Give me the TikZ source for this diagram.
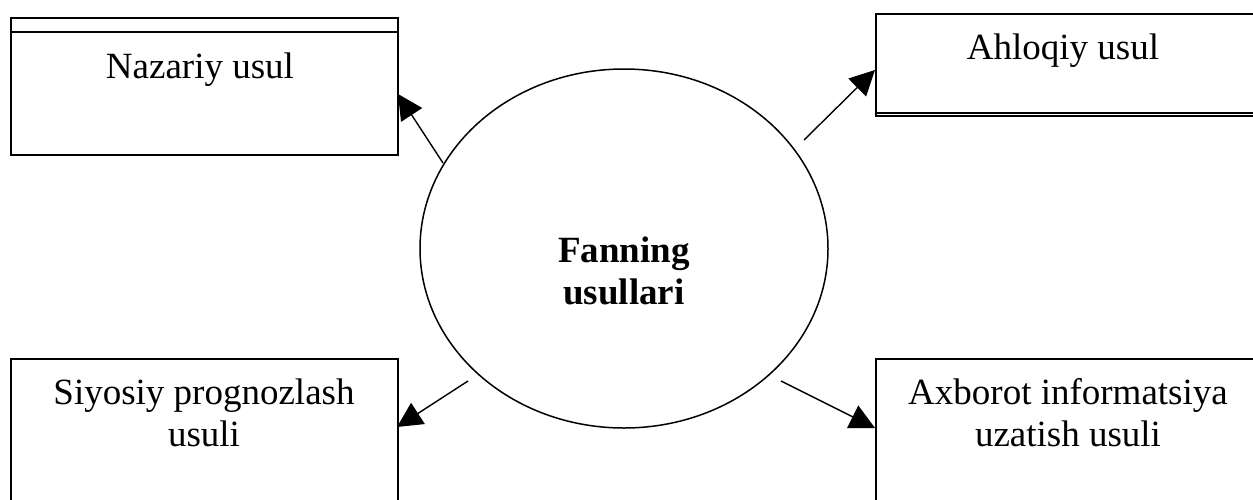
\documentclass[tikz,border=0pt]{standalone}
\usepackage{fontspec}
\setmainfont{Liberation Serif}
\usetikzlibrary{arrows.meta,shapes.geometric}
\begin{document}
\begin{tikzpicture}[x=1pt,y=-1pt,
  boxst/.style={draw, line width=2pt, rectangle, inner sep=0pt, anchor=north west},
  lbl/.style={inner sep=0pt, anchor=base, align=center, font=\fontsize{37}{42.5}\selectfont},
  arr/.style={line width=1.4pt, -{Triangle[length=25pt,width=25pt]}}]
\useasboundingbox (0,0) rectangle (1253,499);
\clip (0,0) rectangle (1253,499);
\fill[white] (0,0) rectangle (1253,499);
% boxes
\node[boxst, minimum width=387pt, minimum height=137pt] (nzbox) at (10,17) {};
\draw[line width=2pt] (nzbox.north west) ++(0,15) coordinate (nzl) -- (nzl -| nzbox.east);
\node[boxst, minimum width=390pt, minimum height=102pt] (ahbox) at (875,13) {};
\draw[line width=2pt] (ahbox.south west) ++(0,-4) coordinate (ahl) -- (ahl -| ahbox.east);
\node[boxst, minimum width=387pt, minimum height=160pt] (sybox) at (10,358) {};
\node[boxst, minimum width=390pt, minimum height=160pt] (axbox) at (875,358) {};
% ellipse
\node[draw, ellipse, line width=1.5pt, minimum width=408pt, minimum height=359pt, inner sep=0pt] (fan) at (624,248.5) {};
% texts
\node[lbl] (nztext) at (200,78) {Nazariy usul};
\node[lbl] (ahtext) at (1063,59) {Ahloqiy usul};
\node[lbl] (sytext) at (204,446.5) {Siyosiy prognozlash\\usuli};
\node[lbl] (axtext) at (1068,446.5) {Axborot informatsiya\\uzatish usuli};
\node[lbl, font=\fontsize{37}{42}\selectfont\bfseries] (fantext) at (624,304) {Fanning\\usullari};
% connectors
\coordinate (s1) at (443,163); \coordinate (t1) at (398,94);
\coordinate (s2) at (804,140); \coordinate (t2) at (875,70);
\coordinate (s3) at (468,381); \coordinate (t3) at (397,427);
\coordinate (s4) at (781,381); \coordinate (t4) at (875,428);
\draw[arr] (s1) -- (t1);
\draw[arr] (s2) -- (t2);
\draw[arr] (s3) -- (t3);
\draw[arr] (s4) -- (t4);
\end{tikzpicture}
\end{document}
